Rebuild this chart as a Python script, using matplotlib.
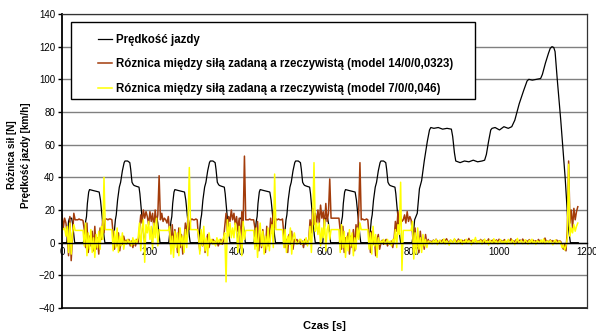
import numpy as np
import matplotlib
matplotlib.use("Agg")
import matplotlib.pyplot as plt
from matplotlib.patches import Rectangle

plt.rcParams['font.family'] = ['Liberation Sans', 'DejaVu Sans']

# --- predkosc: cykl ECE (czas lokalny) i EUDC (czas globalny) ---
ece_t = [0, 11, 13, 15, 17, 22, 24, 27, 29, 49, 51, 54, 56, 58, 61, 63, 70, 78, 85, 88, 93, 96, 98,
         117, 119, 122, 124, 127, 131, 134, 138, 142, 144, 150, 155, 157, 160, 163, 165, 170, 176,
         178, 184, 187, 189, 195]
ece_v = [0, 0, 6, 13, 15, 15, 12, 5, 0, 0, 5, 13, 16, 24, 31, 32.5, 32, 31.5, 31, 26, 12, 4, 0,
         0, 5, 14, 17, 26, 34, 37, 44, 49, 50, 50, 49, 45, 37, 35.5, 35, 34.5, 34,
         30, 12, 4, 0, 0]
ece_starts = [0, 195, 390, 585]

eudc_t = [780, 800, 803, 806, 812, 817, 822, 828, 835, 840, 843, 850, 860, 870, 880, 890, 893, 897,
          900, 910, 920, 930, 940, 950, 960, 966, 970, 975, 980, 983, 990, 1000, 1010, 1020, 1028,
          1035, 1045, 1055, 1063, 1067, 1075, 1085, 1094, 1098, 1105, 1112, 1116, 1120, 1124, 1127,
          1132, 1140, 1150, 1157, 1162, 1180]
eudc_v = [0, 0, 5, 14, 18, 33, 38, 50, 62, 69, 70.5, 70, 70.5, 69.5, 70, 69.5, 65, 55,
          50, 49, 50, 49.5, 50.5, 49.5, 50, 50.5, 54, 62, 69, 70, 70.5, 69, 71, 70, 71,
          75, 85, 93, 99, 100, 99.5, 100, 100.5, 103, 110, 116, 119, 120, 119.5, 117,
          100, 75, 40, 10, 0, 0]

# --- roznica sil, probki co 3 s ---
step = 3

brown_ece1 = [17, 9, 15, 12, 5, -8, 16, -11, 3, 18, 14, 14, 14, 14.5, 14, 14, 13.5,
              8, -3, 12, -6, 4, -2, 7, -5, 10, -4, 3, -7, 9, 2, 14, 6,
              14.5, 14.5, 14, 14.5, 14.5, 14, 5, -4, 3, -2, 6, -5, 2, -1, 4,
              0.5, 1.5, 0, 2, -2, 1, -3, 1, -2, 2, 0, 8, 17, 12, 20, 15, 19]
brown_ece2 = [16, 11, 19, 13, 18, 9, 20, 12, 17, 41, 14, 18, 13, 15, 14, 12, 16,
              6, -4, 11, -2, 8, 3, -6, 9, -3, 5, -7, 2, 12, 5, 16, 8,
              14, 14.5, 14, 14, 14.5, 14, 3, -5, 6, -2, 4, -6, 1, 5, -3,
              1, 0, 2, 1, -1, 2, -2, 0, 2, -1, 1, 10, 18, 7, 16, 13, 20]
brown_ece3 = [14, 18, 11, 16, 7, 15, -3, 19, 10, 53, 14, 14, 14, 14.5, 14, 14, 14,
              9, -2, 13, -5, 6, -3, 8, 1, -6, 10, -2, 4, 15, 6, 19, 9,
              14.5, 14, 14.5, 14, 14, 14.5, 6, -3, 2, -6, 5, -1, 7, -4, 2,
              1, 2, 0, 1.5, -1, 1, -3, 2, -1, 0, 2, 14, 6, 21, 11, 18, 12]
brown_ece4 = [20, 12, 23, 15, 19, 10, 24, 13, 18, 39, 15, 15, 15, 15, 15, 15, 15,
              7, -4, 10, -6, 3, -2, 6, -7, 4, -3, 8, -5, 11, 4, 17, 49,
              14, 14.5, 14, 14, 14.5, 14, 4, -6, 7, -1, 3, -8, 2, 5, -4,
              0, 1.5, -1, 1, 2, -2, 0, -1, 1, -3, 2, 13, 7, 19, 10, 16, 13]
brown_eudc = [14, 17, 12, 19, 13, 16, 14,
              6, -5, 9, -3, 4, -6, 7, -2, 3, -4, 5, -1, 2, 0,
              1.0, 0.2, 1.6, 0.5, 2.1, 0.8, -0.4, 1.3, 0.6, 1.8, 0.1, 1.1, 2.4, 0.7, -0.2, 1.5, 0.9, 0.3, 1.9, 1.2,
              0.4, 2.2, 0.8, -0.5, 1.4, 0.6, 1.7, 0.0, 1.0, 2.6, 0.5, 1.3, -0.3, 0.9, 1.8, 0.2, 1.1, 0.7, 2.0, 0.4,
              1.6, -0.1, 1.2, 0.8, 2.3, 0.3, 1.0, 1.5, -0.4, 0.9, 1.7, 0.5, 2.1, 0.6, 1.3, 0.1, 1.9, 0.8, -0.2, 1.4,
              0.7, 2.5, 0.3, 1.1, 0.6, 1.8, -0.3, 1.0, 1.6, 0.4, 2.2, 0.9, 0.2, 1.3, 0.5, 1.9, 0.8, -0.1, 1.5, 0.6,
              1.2, 0.3, 2.0, 0.7, 1.4, -0.4, 1.0, 2.8, 0.5, 1.1, 0.2, 1.7, 0.6, 1.3, -0.2, 0.9, 1.6, 0.4, 1.2, 0.7,
              -2, -4, -1, -5, 8, 50, 12, 20, 9, 21, 14, 19, 22]

yellow_ece1 = [8, 8, 9, 4, 10, -6, 12, -7, 6, 11, 7.5, 7.5, 7.5, 7.5, 7.5, 7.5, 7.5,
               -2, 12, -8, 6, -4, 8, -6, 3, -9, 5, -3, 7, -4, 10, 2, 40,
               8, 8, 8, 8, 8, 8, -5, 7, -3, 9, -6, 4, -2, 6, -4,
               1, -1, 2, 0, 1, -2, 3, -1, 2, 0, 3, 12, -5, 9, 14, -12, 11]
yellow_ece2 = [6, 13, 2, 10, -4, 12, 3, 15, -2, 8, 7.5, 7.5, 7.5, 7.5, 7.5, 7.5, 7.5,
               10, -7, 4, -9, 7, -3, 6, -8, 9, -2, 4, -6, 8, -3, 11, 46,
               8, 8, 8, 8, 8, 8, 5, -7, 8, -2, 10, -5, 3, -8, 6,
               0, 2, -1, 1, -2, 3, 0, 2, -1, 1, 3, 6, -24, 14, 4, 12, 3]
yellow_ece3 = [9, 3, 12, 7, -6, 10, 4, -8, 13, 2, 7.5, 7.5, 7.5, 7.5, 7.5, 7.5, 7.5,
               -4, 9, -9, 5, 12, -2, 7, -7, 4, -4, 9, -5, 5, 11, -3, 42,
               8, 8, 8, 8, 8, 8, -3, 8, -6, 4, -1, 9, -7, 3, 6,
               1, -1, 0, 2, 2, -1, 1, 0, 3, -2, 1, 10, -6, 13, 49, 7, 12]
yellow_ece4 = [5, 12, -2, 9, 3, 14, -5, 8, 11, 2, 8, 8, 8, 8, 8, 8, 8,
               -6, 11, -3, 7, -9, 4, -5, 8, -2, 6, -8, 3, -4, 9, 2, 12,
               8, 8, 8, 8, 8, 8, -4, 6, -7, 10, -2, 5, -9, 3, -1,
               1, 0, 2, -1, 0, 2, -1, 1, -2, 2, 0, 8, -3, 11, 5, 37, -17]
yellow_eudc = [7.5, 7.5, 7.5, 7.5, 7.5, 7.5, 7.5,
               13, -10, 6, -7, 9, -4, 3, -6, 5, -2, 2, -3, 1, 0.5,
               0.5, -0.8, 1.4, 0.0, 2.0, -1.2, 0.9, 1.6, -0.5, 0.3, 2.3, -0.9, 1.1, 0.2, -1.5, 1.7, 0.6, -0.3, 2.5, 0.1,
               -0.7, 1.3, 0.4, 1.9, -1.1, 0.8, 0.0, 2.1, -0.4, 1.2, 0.5, -1.3, 1.8, 0.3, 3.2, -0.6, 0.9, 0.1, 1.5, -0.9,
               0.7, 2.2, -0.2, 1.0, -1.4, 1.6, 0.4, -0.5, 2.4, 0.2, 1.1, -0.8, 0.6, 1.9, -0.3, 0.8, 0.0, 1.4, -1.0, 2.0,
               0.3, -0.6, 1.7, 0.5, -1.2, 1.0, 2.6, -0.1, 0.7, 1.3, -0.7, 0.2, 1.8, 0.4, -0.9, 1.5, 0.1, 2.1, -0.4, 0.9,
               -1.1, 1.2, 0.6, -0.2, 1.6, 0.0, 2.3, -0.8, 0.5, 1.1, -0.5, 1.4, 0.2, -1.3, 0.8, 1.7, -0.6, 0.3, 1.0, -0.2,
               -3, -1.5, -4.5, -2, 3, 48, 4, 9, 6, 11, 7, 10, 12]

labels = ['Prędkość jazdy',
          'Róznica między siłą zadaną a rzeczywistą (model 14/0/0,0323)',
          'Róznica między siłą zadaną a rzeczywistą (model 7/0/0,046)']
colors = ['#000000', '#A33C0B', '#FFFF00']

# skladanie przebiegow
speed_t = np.concatenate([np.array(ece_t) + s for s in ece_starts] + [np.array(eudc_t)])
speed_v = np.concatenate([ece_v] * 4 + [eudc_v])
brown = np.concatenate([brown_ece1, brown_ece2, brown_ece3, brown_ece4, brown_eudc])
yellow = np.concatenate([yellow_ece1, yellow_ece2, yellow_ece3, yellow_ece4, yellow_eudc])
t = np.arange(len(brown)) * step

fig = plt.figure(figsize=(5.96, 3.34), dpi=100)
ax = fig.add_axes([62 / 596, 26 / 334, 525 / 596, 294 / 334])

l1, = ax.plot(speed_t, speed_v, color=colors[0], lw=0.9)
l2, = ax.plot(t, brown, color=colors[1], lw=1.1)
l3, = ax.plot(t, yellow, color=colors[2], lw=1.1)

ax.set_xlim(0, 1200)
ax.set_ylim(-40, 140)
ax.set_yticks(range(-40, 141, 20))
ax.set_xticks(range(0, 1201, 200))
ax.set_axisbelow(True)
ax.yaxis.grid(True, color='#808080', lw=1.0)

# os X przecina os Y w zerze
ax.spines['bottom'].set_position(('data', 0))
ax.spines['bottom'].set_linewidth(1.0)
ax.axhline(-40, color='black', lw=1.2, clip_on=False, zorder=0.5)
for s in ['top', 'right']:
    ax.spines[s].set_color('#333333')
    ax.spines[s].set_linewidth(0.9)
ax.spines['left'].set_linewidth(1.3)
ax.tick_params(axis='y', direction='out', length=3, width=1, labelsize=7, pad=2)
ax.tick_params(axis='x', length=0, labelsize=7, pad=3)

# legenda w ramce
ax.add_patch(Rectangle((9 / 525, 209 / 294), 404 / 525, 77 / 294, transform=ax.transAxes,
                       facecolor='white', edgecolor='black', lw=1.0, zorder=5))
leg = ax.legend([l1, l2, l3], labels, loc='upper left', bbox_to_anchor=(30 / 525, 280 / 294),
                frameon=False, borderpad=0, handlelength=1.25, handletextpad=0.3,
                labelspacing=1.1, prop={'weight': 'bold', 'size': 8.3})
leg.set_zorder(6)

fig.text(19 / 596, (334 - 155) / 334, 'Różnica sił [N]\nPrędkość jazdy [km/h]', rotation=90,
         ha='center', va='center', fontsize=7.2, fontweight='bold', linespacing=1.45)
fig.text(324 / 596, 8 / 334, 'Czas [s]', ha='center', va='center', fontsize=8, fontweight='bold')

fig.savefig('out.png', dpi=100)
